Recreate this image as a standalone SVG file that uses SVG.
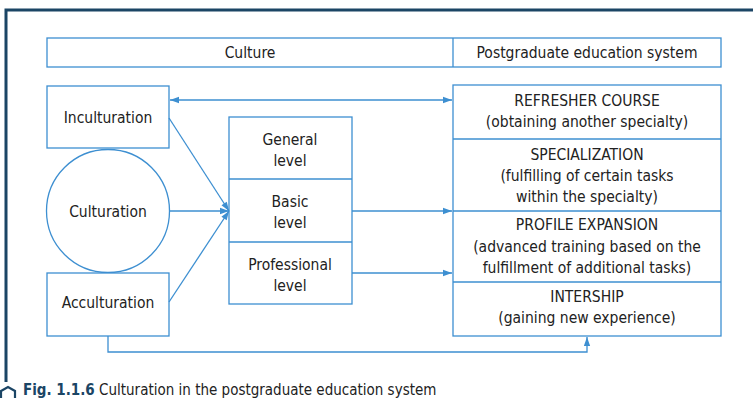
<svg xmlns="http://www.w3.org/2000/svg" width="753" height="400" viewBox="0 0 753 400">
<style>
.box{fill:#fff;stroke:#3d8fd1;stroke-width:1.3}
.ln{fill:none;stroke:#3d8fd1;stroke-width:1.3}
text{font-family:"Liberation Sans Narrow","DejaVu Sans Condensed","Liberation Sans",sans-serif;font-stretch:condensed;font-size:15.5px;fill:#222;text-anchor:middle}
</style>
<defs>
<marker id="ah" viewBox="0 0 10 10" refX="10" refY="5" markerWidth="12" markerHeight="9" markerUnits="userSpaceOnUse" orient="auto-start-reverse">
<path d="M0,1.5 L10,5 L0,8.5 Z" fill="#3d8fd1"/>
</marker>
</defs>
<rect width="753" height="400" fill="#fff"/>
<path d="M6,382 V10 H753" fill="none" stroke="#1b4565" stroke-width="3"/>
<g id="header">
<rect class="box" x="47" y="38" width="674" height="29"/>
<line class="ln" x1="453" y1="38" x2="453" y2="67"/>
<text x="250" y="58">Culture</text>
<text x="587" y="58">Postgraduate education system</text>
</g>
<g id="inculturation">
<rect class="box" x="47" y="86" width="122" height="62"/>
<text x="108" y="123">Inculturation</text>
</g>
<g id="culturation">
<circle class="box" cx="108" cy="211" r="61.5"/>
<text x="108" y="217">Culturation</text>
</g>
<g id="acculturation">
<rect class="box" x="47" y="273" width="122" height="63"/>
<text x="108" y="308">Acculturation</text>
</g>
<g id="levels">
<rect class="box" x="229" y="117" width="123" height="187"/>
<line class="ln" x1="229" y1="179" x2="352" y2="179"/>
<line class="ln" x1="229" y1="242" x2="352" y2="242"/>
<text x="290" y="145">General</text>
<text x="290" y="166">level</text>
<text x="290" y="207">Basic</text>
<text x="290" y="228">level</text>
<text x="290" y="270">Professional</text>
<text x="290" y="291">level</text>
</g>
<g id="postgraduate">
<rect class="box" x="453" y="85" width="268" height="251"/>
<line class="ln" x1="453" y1="139" x2="721" y2="139"/>
<line class="ln" x1="453" y1="211" x2="721" y2="211"/>
<line class="ln" x1="453" y1="282" x2="721" y2="282"/>
<text x="587" y="106">REFRESHER COURSE</text>
<text x="587" y="127">(obtaining another specialty)</text>
<text x="587" y="160">SPECIALIZATION</text>
<text x="587" y="181">(fulfilling of certain tasks</text>
<text x="587" y="202">within the specialty)</text>
<text x="587" y="230">PROFILE EXPANSION</text>
<text x="587" y="252">(advanced training based on the</text>
<text x="587" y="273">fulfillment of additional tasks)</text>
<text x="587" y="302">INTERSHIP</text>
<text x="587" y="323">(gaining new experience)</text>
</g>
<g id="connectors">
<line class="ln" x1="170" y1="100" x2="452" y2="100" marker-start="url(#ah)" marker-end="url(#ah)"/>
<line class="ln" x1="169" y1="118" x2="229" y2="211" marker-end="url(#ah)"/>
<line class="ln" x1="169" y1="211" x2="229" y2="211" marker-end="url(#ah)"/>
<line class="ln" x1="169" y1="302" x2="229" y2="211" marker-end="url(#ah)"/>
<line class="ln" x1="352" y1="211" x2="452" y2="211" marker-end="url(#ah)"/>
<line class="ln" x1="352" y1="273" x2="452" y2="273" marker-end="url(#ah)"/>
<polyline class="ln" points="108,336 108,352 587,352 587,337" marker-end="url(#ah)"/>
</g>
<g id="caption">
<path d="M1,398 V391 L8,387 L15,391 V398" fill="none" stroke="#1b4565" stroke-width="2.2"/>
<text x="23" y="395" style="text-anchor:start;font-size:15px"><tspan font-weight="bold" fill="#1b4565">Fig. 1.1.6</tspan> Culturation in the postgraduate education system</text>
</g>
</svg>
